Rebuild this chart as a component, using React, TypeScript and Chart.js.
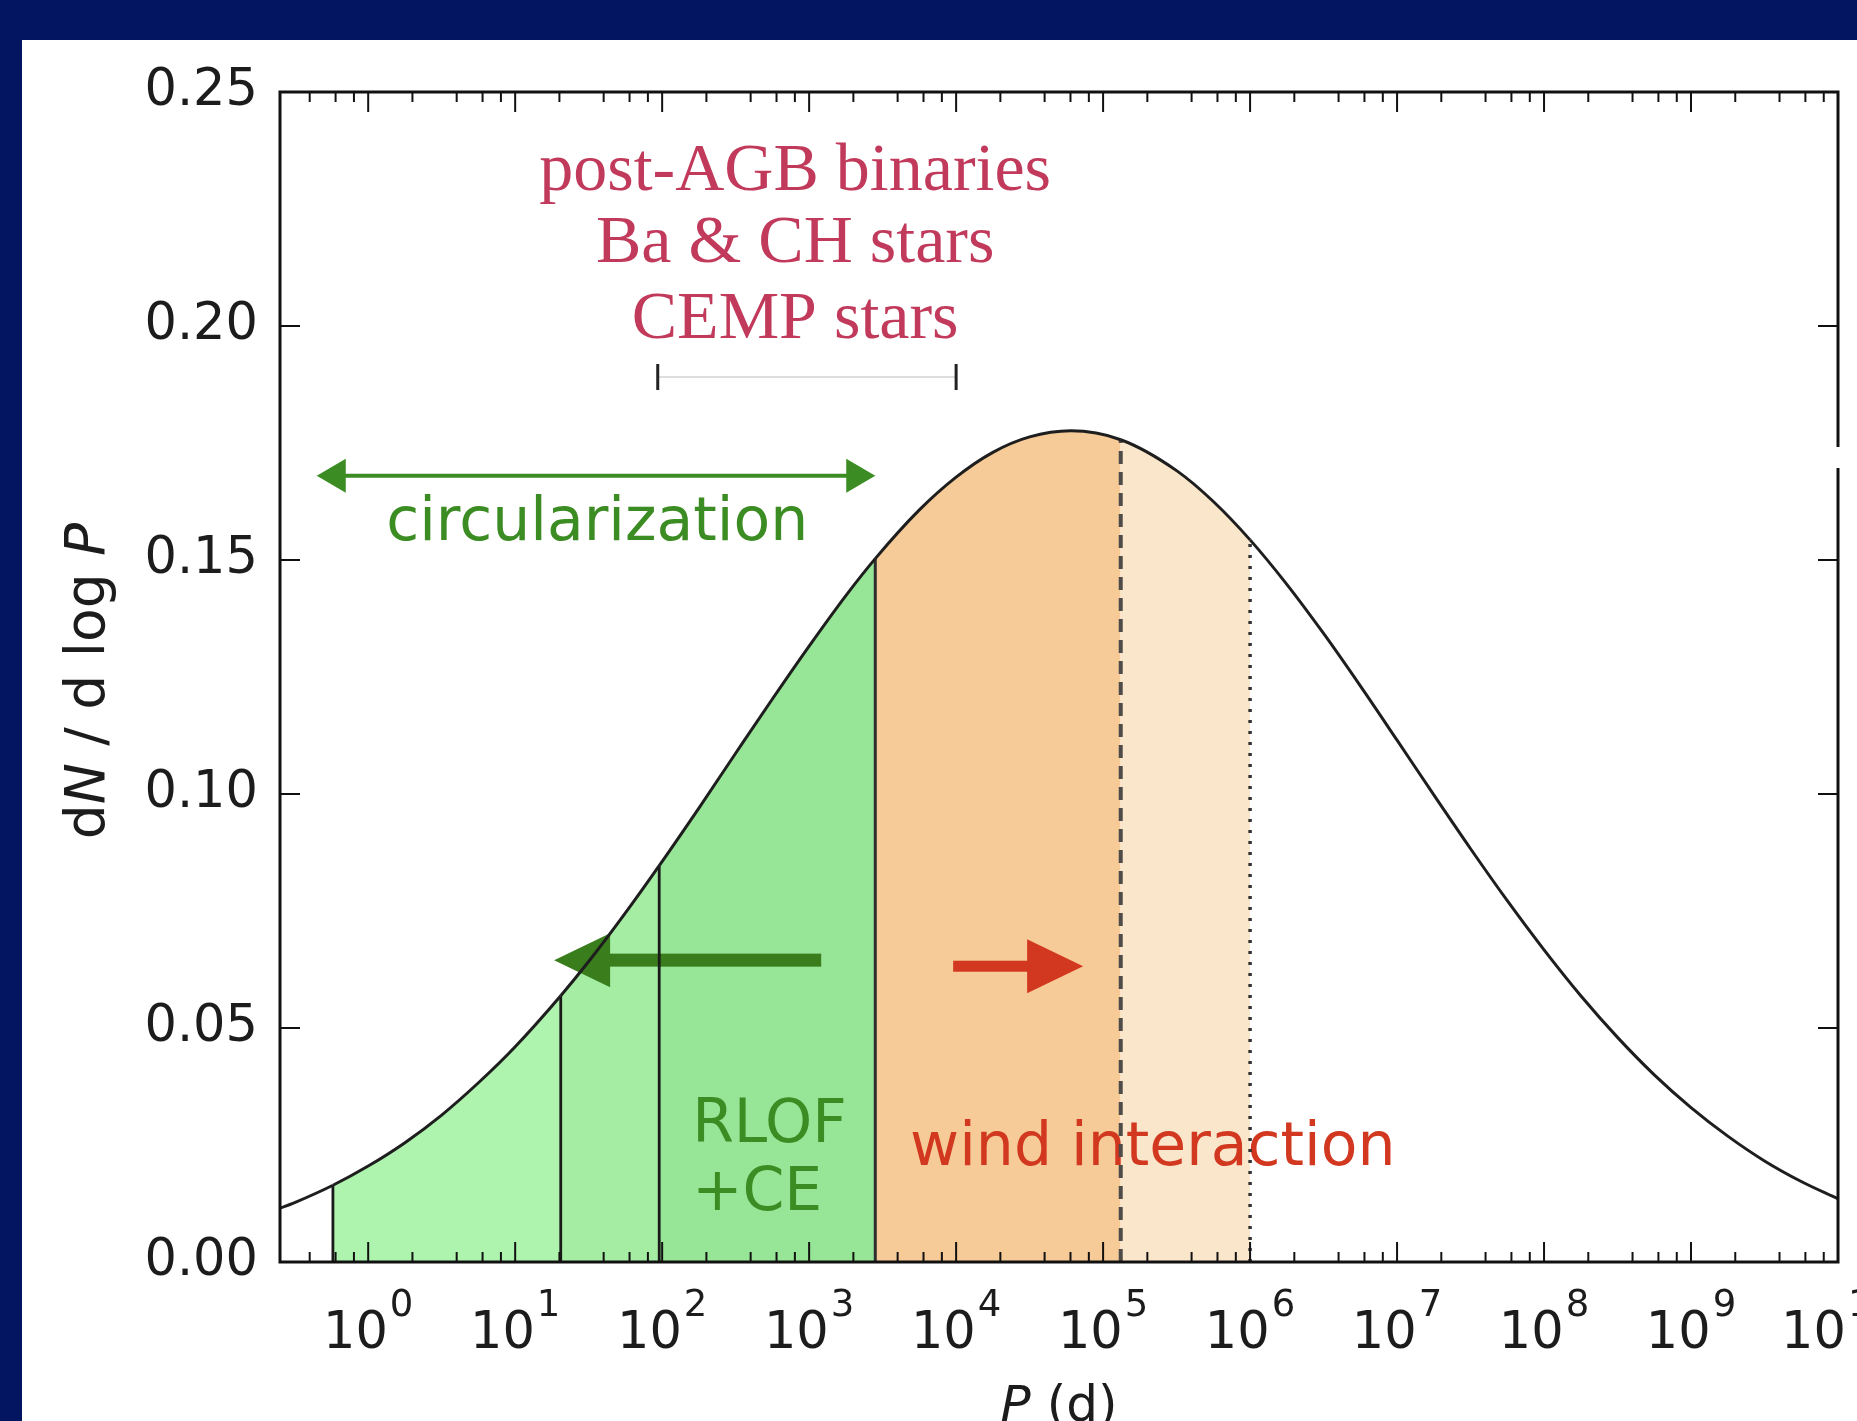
import React, { useEffect, useRef } from 'react';
import { Chart, registerables } from 'chart.js';

Chart.register(...registerables);

// ---- data ----
// orbital period samples, log10(P / d)
const CURVE_LOGP = [-0.6, -0.5, -0.24, 0, 0.25, 0.5, 0.75, 1, 1.31, 1.5, 1.75, 1.98, 2.25, 2.5, 2.75, 3, 3.25, 3.45, 3.75, 4, 4.25, 4.5, 4.78, 5.12, 5.5, 5.75, 6, 6.25, 6.5, 6.75, 7, 7.25, 7.5, 7.75, 8, 8.25, 8.5, 8.75, 9, 9.25, 9.5, 9.75, 10];
// dN / d log P read at those periods
const CURVE_DENSITY = [0.0115, 0.0127, 0.0164, 0.0205, 0.0255, 0.0314, 0.0383, 0.046, 0.0569, 0.0642, 0.0746, 0.0847, 0.097, 0.1087, 0.1203, 0.1316, 0.1424, 0.1503, 0.1607, 0.1677, 0.173, 0.1763, 0.1776, 0.1757, 0.1691, 0.1625, 0.1543, 0.1448, 0.1343, 0.1231, 0.1115, 0.0998, 0.0883, 0.0772, 0.0667, 0.0569, 0.048, 0.04, 0.033, 0.0269, 0.0216, 0.0172, 0.0135];
// boundaries of the shaded period regimes, log10(P / d)
const REGION_EDGES_LOGP = [-0.24, 1.31, 1.98, 3.45, 5.12, 6.0];
// x tick decades, minor tick multiples and y ticks
const X_DECADES = [0, 1, 2, 3, 4, 5, 6, 7, 8, 9, 10];
const X_MINOR_MULTIPLES = [2, 4, 6, 8];
const Y_TICKS = [0, 0.05, 0.1, 0.15, 0.2, 0.25];
const X_MIN_LOGP = -0.6;
const X_MAX_LOGP = 10;
// annotation texts
const SAMPLE_LINES = ['post-AGB binaries', 'Ba & CH stars', 'CEMP stars'];
const SAMPLE_RANGE_LOGP = [1.97, 4.0];
const CIRC_RANGE_LOGP = [-0.35, 3.45];
const RLOF_LINES = ['RLOF', '+CE'];
const WIND_TEXT = 'wind interaction';
const CIRC_TEXT = 'circularization';

// ---- styles ----
const W = 1857;
const H = 1421;
const FRAME_BG = '#031560';
const REGION_FILLS = ['#aef4ae', '#a5eda3', '#97e596', '#f6cb97', '#fae6cb'];
const EDGE_COLORS = ['#1a1a1a', '#1a1a1a', '#1a1a1a', '#2e2e2e', '#4e4b48', '#333333'];
const EDGE_WIDTHS = [2.8, 2.8, 2.8, 3, 4, 3.5];
const EDGE_DASHES = [[], [], [], [], [13, 8], [3, 8]];
const GREEN_TEXT = '#3b8c22';
const GREEN_ARROW = '#3a7d1c';
const RED = '#d2381f';
const CRIMSON = '#c23a5b';
const INK = '#1c1c1c';
const SANS = '"DejaVu Sans"';

const densityAt = (lp: number) => CURVE_DENSITY[CURVE_LOGP.findIndex((v) => Math.abs(v - lp) < 1e-9)];

function regionColor(lp: number) {
  for (let i = 0; i < REGION_EDGES_LOGP.length - 1; i++) {
    if (lp >= REGION_EDGES_LOGP[i] - 1e-9 && lp < REGION_EDGES_LOGP[i + 1] - 1e-9) return REGION_FILLS[i];
  }
  return 'rgba(255,255,255,0)';
}

function drawMixed(ctx: CanvasRenderingContext2D, parts: { t: string; it?: boolean }[], x: number, y: number, size: number) {
  const fonts = parts.map((p) => `${p.it ? 'italic ' : ''}${size}px ${SANS}`);
  let total = 0;
  const widths = parts.map((p, i) => {
    ctx.font = fonts[i];
    const w = ctx.measureText(p.t).width;
    total += w;
    return w;
  });
  let cx = x - total / 2;
  ctx.textAlign = 'left';
  ctx.textBaseline = 'alphabetic';
  parts.forEach((p, i) => {
    ctx.font = fonts[i];
    ctx.fillText(p.t, cx, y);
    cx += widths[i];
  });
}

function arrowHead(ctx: CanvasRenderingContext2D, tipX: number, y: number, dir: number, len: number, half: number) {
  ctx.beginPath();
  ctx.moveTo(tipX, y);
  ctx.lineTo(tipX - dir * len, y - half);
  ctx.lineTo(tipX - dir * len, y + half);
  ctx.closePath();
  ctx.fill();
}

const decor = {
  id: 'decor',
  beforeDraw(chart: any) {
    const ctx = chart.ctx;
    ctx.save();
    ctx.fillStyle = FRAME_BG;
    ctx.fillRect(0, 0, W, H);
    ctx.fillStyle = '#ffffff';
    ctx.fillRect(22, 40, W - 22, H - 40);
    ctx.restore();
  },
  beforeDatasetsDraw(chart: any) {
    const ctx = chart.ctx;
    const xs = chart.scales.x;
    const ys = chart.scales.y;
    const px = (lp: number) => xs.getPixelForValue(Math.pow(10, lp));
    const py = (v: number) => ys.getPixelForValue(v);
    ctx.save();

    // sample labels (serif, crimson)
    ctx.fillStyle = CRIMSON;
    ctx.font = '68px "Liberation Serif"';
    ctx.textAlign = 'center';
    ctx.textBaseline = 'alphabetic';
    const sampleBase = [0.2291, 0.2137, 0.1974];
    SAMPLE_LINES.forEach((t, i) => ctx.fillText(t, px(2.905), py(sampleBase[i])));

    // range bar below the sample labels
    const ry = py(0.1891);
    ctx.strokeStyle = '#dddddd';
    ctx.lineWidth = 2;
    ctx.beginPath();
    ctx.moveTo(px(SAMPLE_RANGE_LOGP[0]), ry);
    ctx.lineTo(px(SAMPLE_RANGE_LOGP[1]), ry);
    ctx.stroke();
    ctx.strokeStyle = '#222222';
    ctx.lineWidth = 3;
    SAMPLE_RANGE_LOGP.forEach((lp) => {
      ctx.beginPath();
      ctx.moveTo(px(lp), ry - 13);
      ctx.lineTo(px(lp), ry + 13);
      ctx.stroke();
    });

    // circularization double arrow
    const cy = py(0.168);
    const cl = px(CIRC_RANGE_LOGP[0]);
    const cr = px(CIRC_RANGE_LOGP[1]);
    ctx.strokeStyle = GREEN_TEXT;
    ctx.fillStyle = GREEN_TEXT;
    ctx.lineWidth = 4;
    ctx.beginPath();
    ctx.moveTo(cl + 20, cy);
    ctx.lineTo(cr - 20, cy);
    ctx.stroke();
    arrowHead(ctx, cl, cy, -1, 29, 17);
    arrowHead(ctx, cr, cy, 1, 29, 17);
    ctx.font = `60px ${SANS}`;
    ctx.textAlign = 'center';
    ctx.fillText(CIRC_TEXT, px(1.558), py(0.1543));

    // RLOF + CE
    ctx.textAlign = 'left';
    ctx.fillText(RLOF_LINES[0], px(2.204), py(0.0256));
    ctx.fillText(RLOF_LINES[1], px(2.204), py(0.0111));

    // thick green arrow (to shorter periods)
    const gy = py(0.0645);
    const gTip = px(1.265);
    const gTail = px(3.082);
    ctx.fillStyle = GREEN_ARROW;
    ctx.fillRect(gTip + 50, gy - 6.5, gTail - gTip - 50, 13);
    arrowHead(ctx, gTip, gy, -1, 56, 27);

    // red arrow (to longer periods)
    const rY = py(0.0632);
    const rTail = px(3.98);
    const rTip = px(4.864);
    ctx.fillStyle = RED;
    ctx.fillRect(rTail, rY - 5.5, rTip - rTail - 50, 11);
    arrowHead(ctx, rTip, rY, 1, 56, 27);

    // wind interaction
    ctx.font = `60px ${SANS}`;
    ctx.textAlign = 'left';
    ctx.fillText(WIND_TEXT, px(3.687), py(0.0207));
    ctx.restore();
  },
  afterDatasetsDraw(chart: any) {
    const ctx = chart.ctx;
    const { left, right, top, bottom } = chart.chartArea;
    const xs = chart.scales.x;
    const ys = chart.scales.y;
    ctx.save();
    ctx.strokeStyle = '#111111';
    ctx.lineWidth = 2;
    const tick = (x1: number, y1: number, x2: number, y2: number) => {
      ctx.beginPath();
      ctx.moveTo(x1, y1);
      ctx.lineTo(x2, y2);
      ctx.stroke();
    };
    // x ticks (inward, bottom and top): majors at decades, minors at 2,4,6,8
    for (let n = -1; n <= 9; n++) {
      [1, ...X_MINOR_MULTIPLES].forEach((k) => {
        const lp = n + Math.log10(k);
        if (lp <= X_MIN_LOGP || lp >= X_MAX_LOGP) return;
        const x = xs.getPixelForValue(Math.pow(10, lp));
        const len = k === 1 ? 20 : 10;
        tick(x, bottom, x, bottom - len);
        tick(x, top, x, top + len);
      });
    }
    // y ticks (inward, left and right)
    Y_TICKS.forEach((v) => {
      const y = ys.getPixelForValue(v);
      tick(left, y, left + 20, y);
      tick(right, y, right - 20, y);
    });
    // frame
    ctx.lineWidth = 3;
    ctx.strokeRect(left, top, right - left, bottom - top);
    // small break in the right spine seen in the original
    ctx.fillStyle = '#ffffff';
    ctx.fillRect(right - 4, 447, 10, 21);
    ctx.restore();
  },
  afterDraw(chart: any) {
    const ctx = chart.ctx;
    const { left, right, bottom } = chart.chartArea;
    const xs = chart.scales.x;
    ctx.save();
    ctx.fillStyle = INK;
    // x tick labels 10^n with a raised exponent
    X_DECADES.forEach((d) => {
      const x = xs.getPixelForValue(Math.pow(10, d));
      ctx.font = `51px ${SANS}`;
      const wBase = ctx.measureText('10').width;
      ctx.font = `37px ${SANS}`;
      const wExp = ctx.measureText(String(d)).width;
      const gap = 2;
      const start = x - (wBase + gap + wExp) / 2;
      ctx.textAlign = 'left';
      ctx.textBaseline = 'alphabetic';
      ctx.font = `51px ${SANS}`;
      ctx.fillText('10', start, bottom + 86);
      ctx.font = `37px ${SANS}`;
      ctx.fillText(String(d), start + wBase + gap, bottom + 54);
    });
    // x title
    drawMixed(ctx, [{ t: 'P', it: true }, { t: ' (d)' }], (left + right) / 2, 1421, 50);
    // y title
    ctx.translate(104, 681);
    ctx.rotate(-Math.PI / 2);
    drawMixed(ctx, [{ t: 'd' }, { t: 'N', it: true }, { t: ' / d log ' }, { t: 'P', it: true }], 0, 0, 55);
    ctx.restore();
  },
};

export default function App() {
  const ref = useRef<HTMLCanvasElement>(null);
  useEffect(() => {
    document.body.style.margin = '0';
    document.body.style.overflow = 'hidden';
    const canvas = ref.current as HTMLCanvasElement;

    const curveData = CURVE_LOGP.map((lp, i) => ({ x: Math.pow(10, lp), y: CURVE_DENSITY[i] }));
    const edgeSets = REGION_EDGES_LOGP.map((e, i) => ({
      type: 'line' as const,
      data: [
        { x: Math.pow(10, e), y: 0 },
        { x: Math.pow(10, e), y: densityAt(e) },
      ],
      borderColor: EDGE_COLORS[i],
      borderWidth: EDGE_WIDTHS[i],
      borderDash: EDGE_DASHES[i],
      borderCapStyle: 'butt' as const,
      pointRadius: 0,
      fill: false,
      order: 1,
    }));

    const chart = new Chart(canvas, {
      type: 'line',
      data: {
        datasets: [
          {
            data: curveData,
            borderColor: '#1e1e1e',
            borderWidth: 3,
            pointRadius: 0,
            cubicInterpolationMode: 'monotone',
            fill: 'origin',
            backgroundColor: 'rgba(255,255,255,0)',
            segment: {
              backgroundColor: (c: any) => regionColor(CURVE_LOGP[c.p0DataIndex]),
            },
            order: 0,
          } as any,
          ...edgeSets,
        ],
      },
      options: {
        responsive: false,
        animation: false,
        devicePixelRatio: 1,
        events: [],
        layout: { padding: { left: 0, top: 92, right: 19, bottom: 0 } },
        plugins: {
          legend: { display: false },
          tooltip: { enabled: false },
          filler: { drawTime: 'beforeDatasetsDraw' },
        } as any,
        scales: {
          x: {
            type: 'logarithmic',
            min: Math.pow(10, X_MIN_LOGP),
            max: Math.pow(10, X_MAX_LOGP),
            grid: { display: false, drawTicks: false },
            border: { display: false },
            afterBuildTicks: (s: any) => {
              s.ticks = X_DECADES.map((d) => ({ value: Math.pow(10, d), major: true }));
            },
            afterFit: (s: any) => {
              s.height = 159;
              s.paddingLeft = 0;
              s.paddingRight = 0;
            },
            ticks: { display: false, autoSkip: false, maxRotation: 0 },
          },
          y: {
            type: 'linear',
            min: 0,
            max: 0.25,
            grid: { display: false, drawTicks: false },
            border: { display: false },
            afterBuildTicks: (s: any) => {
              s.ticks = Y_TICKS.map((v) => ({ value: v }));
            },
            afterFit: (s: any) => {
              s.width = 280;
              s.paddingTop = 0;
              s.paddingBottom = 0;
            },
            ticks: {
              padding: 22,
              color: INK,
              font: { family: 'DejaVu Sans', size: 51 },
              callback: (v: any) => Number(v).toFixed(2),
            },
          },
        },
      } as any,
      plugins: [decor],
    });
    return () => chart.destroy();
  }, []);

  return <canvas ref={ref} width={W} height={H} style={{ display: 'block', width: W, height: H }} />;
}
